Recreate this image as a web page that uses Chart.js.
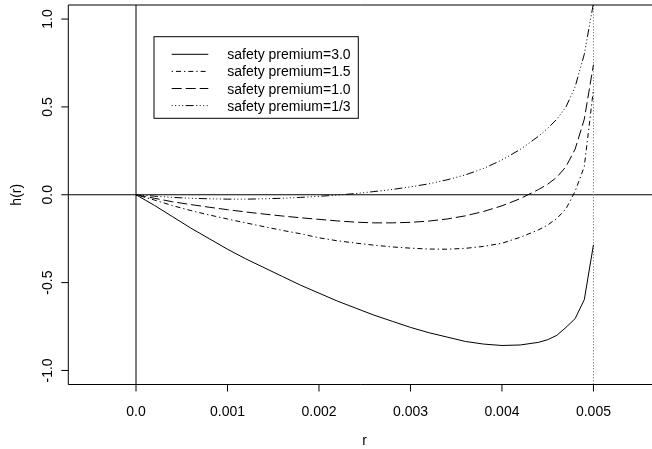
<!DOCTYPE html>
<html>
<head>
<meta charset="utf-8">
<title>h(r) by safety premium</title>
<script src="https://cdn.jsdelivr.net/npm/chart.js@4"></script>
<style>
  html, body { margin: 0; padding: 0; background: #fff; overflow: hidden; }
  #wrap { width: 652px; height: 449px; }
</style>
</head>
<body>
<div id="wrap"><canvas id="hChart" width="652" height="449"></canvas></div>
<script>
// r values (x axis)
const rValues = [0, 0.0002, 0.0004, 0.0006, 0.0008, 0.0010, 0.0012, 0.0014, 0.0016, 0.0018,
  0.0020, 0.0022, 0.0024, 0.0026, 0.0028, 0.0030, 0.0032, 0.0034, 0.0036, 0.0038,
  0.0040, 0.0042, 0.0044, 0.0045, 0.0046, 0.0047, 0.0048, 0.0049, 0.0050];

// h(r) for each safety premium
const premium30 = [0, -0.06, -0.125, -0.19, -0.25, -0.31, -0.365, -0.415, -0.465, -0.515,
  -0.56, -0.605, -0.645, -0.685, -0.72, -0.755, -0.785, -0.81, -0.835, -0.85,
  -0.858, -0.855, -0.84, -0.825, -0.80, -0.755, -0.705, -0.597, -0.285];
const premium15 = [0, -0.03, -0.062, -0.09, -0.115, -0.138, -0.16, -0.182, -0.203, -0.222,
  -0.245, -0.262, -0.275, -0.287, -0.297, -0.304, -0.309, -0.31, -0.305, -0.294,
  -0.276, -0.242, -0.2, -0.172, -0.135, -0.08, 0.02, 0.16, 0.6];
const premium10 = [0, -0.02, -0.04, -0.056, -0.071, -0.085, -0.098, -0.11, -0.121, -0.131,
  -0.14, -0.149, -0.156, -0.16, -0.16, -0.157, -0.15, -0.138, -0.12, -0.095,
  -0.063, -0.022, 0.03, 0.06, 0.1, 0.16, 0.26, 0.43, 0.74];
const premium03 = [0, -0.008, -0.015, -0.02, -0.023, -0.025, -0.025, -0.023, -0.02, -0.015,
  -0.009, -0.002, 0.007, 0.018, 0.03, 0.045, 0.062, 0.085, 0.113, 0.15,
  0.198, 0.258, 0.333, 0.378, 0.43, 0.5, 0.615, 0.8, 1.09];

const seriesLabels = ["safety premium=3.0", "safety premium=1.5", "safety premium=1.0", "safety premium=1/3"];

const FONT = '14px "Liberation Sans", Arial, Helvetica, sans-serif';

// turn one series into {x, y} points
const toPoints = (ys) => rValues.map((r, i) => ({ x: r, y: ys[i] }));

const makeSet = (label, ys, dash) => ({
  label: label,
  data: toPoints(ys),
  borderColor: "#000",
  borderWidth: 1,
  borderDash: dash,
  pointRadius: 0,
  tension: 0,
  fill: false,
});

const datasets = [
  makeSet(seriesLabels[0], premium30, []),
  makeSet(seriesLabels[1], premium15, [1.3, 3, 5, 3]),
  makeSet(seriesLabels[2], premium10, [10, 4]),
  makeSet(seriesLabels[3], premium03, [1, 2.5, 1, 2.5, 1, 2.5, 1, 2.5, 8, 2.5]),
];

// reference lines under the curves: h = 0, r = 0 and dotted r = 0.005
const refLines = {
  id: "refLines",
  beforeDatasetsDraw(chart) {
    const { ctx, chartArea: a, scales: { x, y } } = chart;
    ctx.save();
    ctx.strokeStyle = "#000";
    ctx.lineWidth = 1;
    const y0 = y.getPixelForValue(0);
    const x0 = x.getPixelForValue(0);
    ctx.beginPath();
    ctx.moveTo(a.left, y0); ctx.lineTo(a.right, y0);
    ctx.moveTo(x0, a.top); ctx.lineTo(x0, a.bottom);
    ctx.stroke();
    const x5 = x.getPixelForValue(0.005);
    ctx.strokeStyle = "#888";
    ctx.setLineDash([1.5, 1.5]);
    ctx.beginPath();
    ctx.moveTo(x5, a.top); ctx.lineTo(x5, a.bottom);
    ctx.stroke();
    ctx.restore();
  },
};

// R style frame, axes, labels and legend
const rAxes = {
  id: "rAxes",
  afterDraw(chart) {
    const { ctx, chartArea: a, scales: { x, y } } = chart;
    ctx.save();
    ctx.strokeStyle = "#000";
    ctx.fillStyle = "#000";
    ctx.lineWidth = 1;
    ctx.font = FONT;

    // frame (right side is beyond the picture)
    ctx.beginPath();
    ctx.moveTo(a.right, a.top); ctx.lineTo(a.left, a.top);
    ctx.lineTo(a.left, a.bottom); ctx.lineTo(a.right, a.bottom);
    ctx.stroke();

    // x ticks
    ctx.textAlign = "center";
    ctx.textBaseline = "alphabetic";
    x.ticks.forEach((t) => {
      const px = x.getPixelForValue(t.value);
      if (px < a.left || px > a.right) return;
      ctx.beginPath();
      ctx.moveTo(px, a.bottom); ctx.lineTo(px, a.bottom + 7);
      ctx.stroke();
      const lab = Math.abs(t.value) < 1e-12 ? "0.0" : t.value.toFixed(3);
      ctx.fillText(lab, px, 416);
    });

    // y ticks, labels turned like R
    y.ticks.forEach((t) => {
      const py = y.getPixelForValue(t.value);
      ctx.beginPath();
      ctx.moveTo(a.left, py); ctx.lineTo(a.left - 7, py);
      ctx.stroke();
      const v = Math.abs(t.value) < 1e-12 ? 0 : t.value;
      ctx.save();
      ctx.translate(51.7, py);
      ctx.rotate(-Math.PI / 2);
      ctx.fillText(v.toFixed(1), 0, 0);
      ctx.restore();
    });

    // axis titles
    ctx.fillText("r", (a.left + 661) / 2, 445);
    ctx.save();
    ctx.translate(20.5, (a.top + a.bottom) / 2);
    ctx.rotate(-Math.PI / 2);
    ctx.fillText("h(r)", 0, 0);
    ctx.restore();

    // legend
    ctx.strokeRect(154, 36.7, 204.3, 81.6);
    ctx.textAlign = "left";
    chart.data.datasets.forEach((ds, i) => {
      const rowY = 54.3 + i * 17.1;
      ctx.save();
      ctx.setLineDash(ds.borderDash || []);
      ctx.beginPath();
      ctx.moveTo(171.7, rowY); ctx.lineTo(208.3, rowY);
      ctx.stroke();
      ctx.restore();
      ctx.fillText(ds.label, 227.3, rowY + 5);
    });
    ctx.restore();
  },
};

new Chart(document.getElementById("hChart"), {
  type: "line",
  data: { datasets: datasets },
  options: {
    responsive: false,
    animation: false,
    layout: { padding: { top: 5, right: 0, left: 0, bottom: 0 } },
    plugins: { legend: { display: false }, tooltip: { enabled: false } },
    scales: {
      x: {
        type: "linear",
        min: -0.00074,
        max: 0.00564,
        ticks: { stepSize: 0.001, includeBounds: false, display: false },
        grid: { display: false },
        border: { display: false },
        afterFit: (s) => { s.height = 64.5; },
      },
      y: {
        type: "linear",
        min: -1.08,
        max: 1.08,
        ticks: { stepSize: 0.5, includeBounds: false, display: false },
        grid: { display: false },
        border: { display: false },
        afterFit: (s) => { s.width = 68.3; },
      },
    },
  },
  plugins: [refLines, rAxes],
});
</script>
</body>
</html>
